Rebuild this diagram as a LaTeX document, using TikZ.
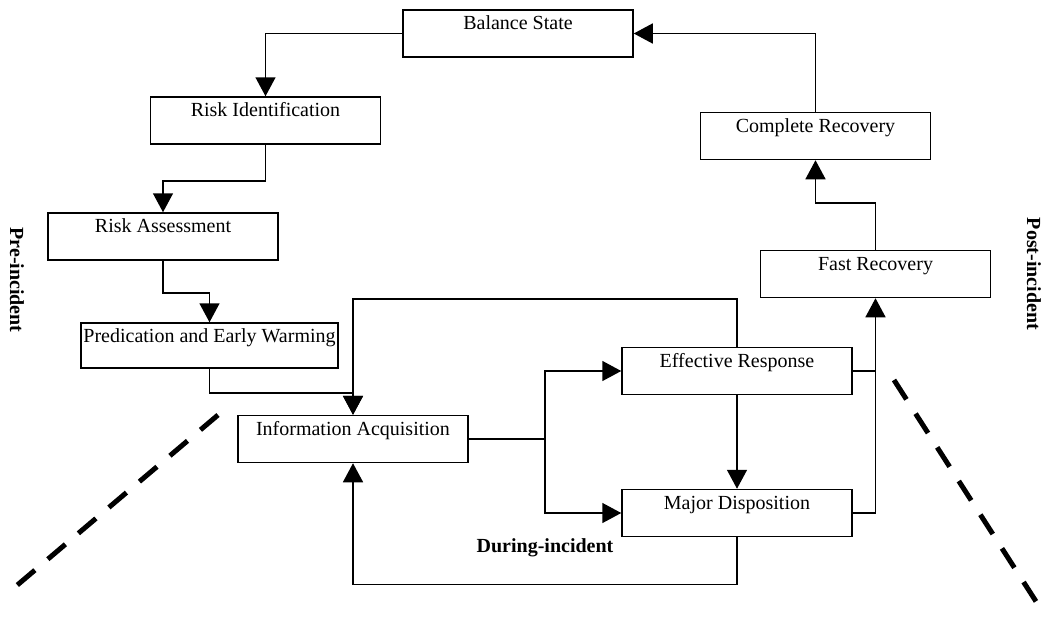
\documentclass[tikz,border=0pt]{standalone}
\usepackage{fontspec}
\setmainfont{Liberation Serif}
\usepackage{tikz}
\usetikzlibrary{arrows.meta}

\tikzset{
  stage/.style={draw,line width=1.5pt,rectangle,minimum width=230pt,inner xsep=0pt,inner ysep=2.5pt,
    text height=17pt,text depth=25pt,font=\fontsize{20}{23}\selectfont},
  flow/.style={line width=1.5pt,-{Triangle[length=19pt,width=20pt]}},
  link/.style={line width=1.5pt},
  phase/.style={font=\fontsize{20}{23}\selectfont\bfseries},
  border/.style={line width=5pt,dash pattern=on 23pt off 17pt}
}

\begin{document}
\begin{tikzpicture}[x=1pt,y=-1pt]
    \useasboundingbox (0,0) rectangle (1043,621);

    \node[stage] (bal) at (518,33.5) {Balance State};
    \node[stage] (rid) at (265.5,120.5) {Risk Identification};
    \node[stage] (rass) at (163,236.5) {Risk Assessment};
    \node[stage,minimum width=257pt,text depth=23pt] (pred) at (209.5,345.5) {Predication and Early Warming};
    \node[stage] (info) at (353,439) {Information Acquisition};
    \node[stage] (eff) at (737,371) {Effective Response};
    \node[stage] (maj) at (737,513) {Major Disposition};
    \node[stage] (fast) at (875.5,274) {Fast Recovery};
    \node[stage] (comp) at (815.5,136) {Complete Recovery};

    \coordinate (split) at (545,439);

    % pre-incident chain
    \draw[flow] (bal.west) -| (rid.north);
    \draw[flow] (rid.south) -- ++(0,36) -| (rass.north);
    \draw[flow] (rass.south) -- ++(0,32) -| (pred.north);
    \draw[flow] (pred.south) -- ++(0,24) -| (info.north);

    % during-incident loop
    \draw[flow] (eff.north) -- ++(0,-48) -| (info.north);
    \draw[link] (info.east) -- (split);
    \draw[flow] (split) |- (eff.west);
    \draw[flow] (split) |- (maj.west);
    \draw[flow] (eff.south) -- (maj.north);
    \draw[flow] (maj.south) -- ++(0,47) -| (info.south);

    % post-incident chain
    \draw[link] (eff.east) -- (eff.east -| fast.south);
    \draw[flow] (maj.east) -| (fast.south);
    \draw[flow] (fast.north) -- ++(0,-47) -| (comp.south);
    \draw[flow] (comp.north) |- (bal.east);

    \node[phase,rotate=-90] (pre) at (17,280) {Pre-incident};
    \node[phase,rotate=-90] (post) at (1034,274) {Post-incident};
    \node[phase] (during) at (545,548) {During-incident};

    \coordinate (lefttop) at (218,415);
    \coordinate (leftbot) at (15,587);
    \coordinate (righttop) at (894,380);
    \coordinate (rightbot) at (1037,603);
    \draw[border] (lefttop) -- (leftbot);
    \draw[border] (righttop) -- (rightbot);
\end{tikzpicture}
\end{document}
